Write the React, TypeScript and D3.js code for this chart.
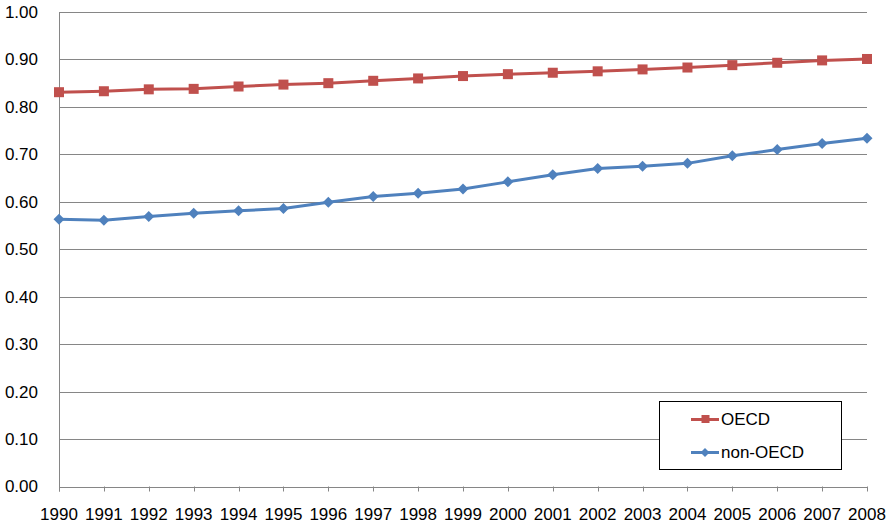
import React from "react";
import * as d3 from "d3";

const years = [1990,1991,1992,1993,1994,1995,1996,1997,1998,1999,2000,2001,2002,2003,2004,2005,2006,2007,2008];
const oecd = [0.831,0.833,0.837,0.838,0.843,0.847,0.850,0.855,0.860,0.865,0.869,0.872,0.875,0.879,0.883,0.888,0.893,0.898,0.901];
const nonOecd = [0.563,0.561,0.569,0.576,0.581,0.586,0.599,0.611,0.618,0.627,0.642,0.657,0.670,0.675,0.681,0.697,0.710,0.723,0.734];
const yTicks = [0,0.1,0.2,0.3,0.4,0.5,0.6,0.7,0.8,0.9,1.0];
const seriesNames = ["OECD", "non-OECD"];

const W = 890, H = 524;
const left = 59, right = 867, top = 12, bottom = 486.5;
const RED = "#C0504D", BLUE = "#4F81BD", GRID = "#868686";
const FONT = "'Liberation Sans', Arial, sans-serif";
const FS = 17;

export default function App() {
  const x = d3.scalePoint<number>().domain(years).range([left, right]);
  const y = d3.scaleLinear().domain([0, 1]).range([bottom, top]);
  const line = d3.line<number>().x((_, i) => x(years[i])!).y(d => y(d));
  const diamond = (cx: number, cy: number, r: number) =>
    `M${cx},${cy - r}L${cx + r},${cy}L${cx},${cy + r}L${cx - r},${cy}Z`;

  return (
    <svg width={W} height={H} style={{ position: "absolute", left: 0, top: 0, background: "#fff" }}>
      <rect width={W} height={H} fill="#fff" />
      {yTicks.map(t => (
        <g key={t}>
          <line x1={left} x2={right} y1={Math.round(y(t)) + 0.5} y2={Math.round(y(t)) + 0.5} stroke={GRID} strokeWidth={1} />
          <text x={38} y={y(t)} dy="0.35em" textAnchor="end" fontFamily={FONT} fontSize={FS} fill="#000">{t.toFixed(2)}</text>
        </g>
      ))}
      <line x1={left + 0.5} x2={left + 0.5} y1={top} y2={bottom + 5} stroke={GRID} strokeWidth={1} />
      {years.map(yr => (
        <g key={yr}>
          <line x1={Math.round(x(yr)!) + 0.5} x2={Math.round(x(yr)!) + 0.5} y1={bottom} y2={bottom + 5} stroke={GRID} strokeWidth={1} />
          <text x={x(yr)!} y={520} textAnchor="middle" fontFamily={FONT} fontSize={FS} fill="#000">{yr}</text>
        </g>
      ))}
      <path d={line(oecd)!} fill="none" stroke={RED} strokeWidth={3} strokeLinejoin="round" />
      {oecd.map((v, i) => (
        <rect key={i} x={x(years[i])! - 5} y={y(v) - 5} width={10} height={10} fill={RED} />
      ))}
      <path d={line(nonOecd)!} fill="none" stroke={BLUE} strokeWidth={3} strokeLinejoin="round" />
      {nonOecd.map((v, i) => (
        <path key={i} d={diamond(x(years[i])!, y(v), 5.5)} fill={BLUE} />
      ))}
      <g>
        <rect x={659.5} y={401.5} width={182} height={68} fill="#fff" stroke="#000" strokeWidth={1} />
        <line x1={691} x2={719} y1={419.5} y2={419.5} stroke={RED} strokeWidth={3} />
        <rect x={701.5} y={415} width={8} height={8} fill={RED} />
        <text x={721} y={425} fontFamily={FONT} fontSize={FS} fill="#000">{seriesNames[0]}</text>
        <line x1={691} x2={719} y1={452.5} y2={452.5} stroke={BLUE} strokeWidth={3} />
        <path d={diamond(705, 452.5, 4.5)} fill={BLUE} />
        <text x={721} y={458} fontFamily={FONT} fontSize={FS} fill="#000">{seriesNames[1]}</text>
      </g>
    </svg>
  );
}
